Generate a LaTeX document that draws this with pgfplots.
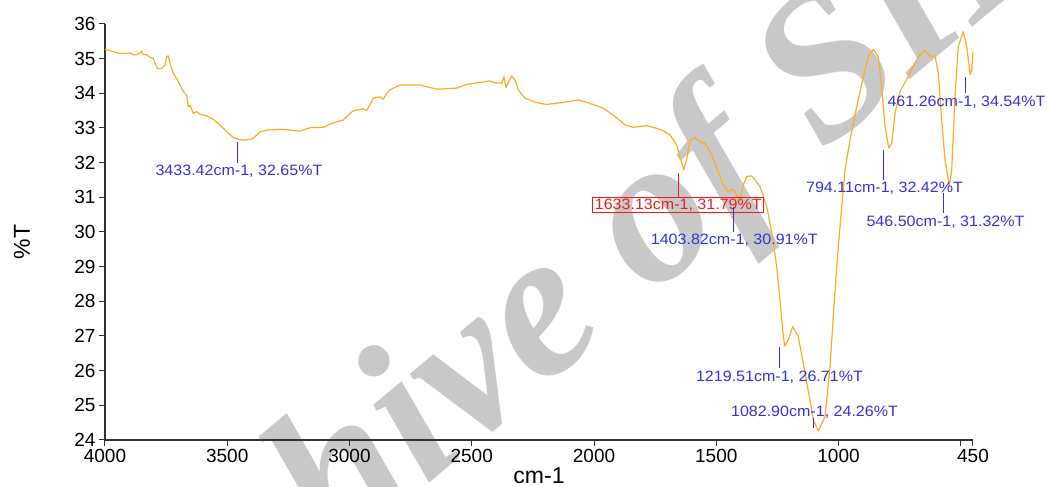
\documentclass[border=0pt]{standalone}
\usepackage{fontspec}
\setmainfont{Liberation Sans}
\newfontfamily\wmfont{Liberation Serif}
\usepackage{pgfplots}
\pgfplotsset{compat=1.18}
\definecolor{curve}{RGB}{255,170,35}
\definecolor{annblue}{RGB}{50,50,215}
\definecolor{annred}{RGB}{235,30,30}
\definecolor{wm}{RGB}{200,200,200}
\definecolor{axisgray}{RGB}{50,50,50}
\newcommand\ann{\fontsize{15}{15}\selectfont}
\begin{document}
\begin{tikzpicture}
\path[use as bounding box] (-105pt,-47pt) rectangle (942pt,440pt);
\node[rotate=40, text=wm, font=\wmfont\bfseries\itshape\fontsize{208}{208}\selectfont] at (455.3pt,133.6pt) {Archive of SID};
\begin{axis}[
  at={(0,0)}, anchor=south west,
  scale only axis, width=868pt, height=416pt,
  x dir=reverse, xmin=450, xmax=4000, ymin=24, ymax=36,
  axis x line*=bottom, axis y line*=left,
  xtick={450,500,1000,1500,2000,2500,3000,3500,4000},
  xticklabels={450,,1000,1500,2000,2500,3000,3500,4000},
  ytick={24,25,...,36},
  tick align=outside, major tick length=6pt,
  tick style={axisgray, line width=1pt},
  axis line style={axisgray, line width=1.2pt},
  ticklabel style={font=\fontsize{19}{19}\selectfont, text=black},
  /pgf/number format/assume math mode=true,
  clip=false,
]
\addplot[curve, line width=1.2pt, line join=round] table {
4000 35.27
3938.7 35.15
3904.7 35.15
3897.8 35.17
3884.3 35.11
3870.4 35.11
3856.9 35.17
3849.9 35.22
3843.4 35.11
3829.5 35.11
3815.9 35.04
3802.5 35.01
3795.5 34.87
3786.1 34.72
3768.1 34.72
3754.6 34.82
3747.7 35.06
3741.1 35.08
3734.2 34.87
3720.7 34.58
3706.8 34.43
3693.3 34.24
3679.8 34.05
3665.9 33.95
3659.3 33.61
3652.4 33.66
3638.9 33.42
3625.0 33.47
3611.5 33.40
3584.1 33.35
3557.1 33.25
3529.7 33.09
3502.3 32.89
3475.3 32.73
3447.9 32.66
3433.4 32.65
3413.9 32.66
3393.5 32.70
3366.1 32.89
3338.7 32.94
3270.8 32.96
3202.5 32.91
3161.6 33.01
3107.2 33.02
3066.3 33.15
3025.4 33.23
2984.5 33.50
2943.6 33.55
2929.7 33.50
2902.7 33.86
2875.3 33.90
2861.8 33.83
2847.9 34.00
2834.4 34.10
2793.5 34.24
2711.7 34.24
2643.4 34.12
2561.6 34.15
2520.7 34.26
2466.3 34.31
2425.4 34.36
2411.9 34.31
2377.6 34.29
2368.1 34.48
2360.0 34.17
2350.6 34.31
2336.6 34.50
2323.1 34.38
2309.6 34.10
2282.2 33.86
2234.4 33.73
2193.5 33.68
2125.6 33.74
2064.2 33.81
2016.4 33.71
1962.0 33.57
1921.1 33.37
1873.3 33.09
1839.3 33.02
1784.5 33.07
1743.6 32.99
1716.6 32.92
1689.2 32.80
1661.8 32.51
1648.3 32.17
1633.1 31.79
1619.7 32.13
1608.0 32.65
1587.5 32.73
1566.5 32.60
1546.1 32.56
1518.7 32.22
1491.7 31.74
1471.2 31.36
1450.8 31.16
1430.3 31.23
1403.8 30.91
1389.5 31.36
1375.5 31.60
1355.0 31.62
1321.1 31.31
1293.7 30.73
1272.4 29.96
1252.8 29.00
1239.3 28.04
1225.8 26.98
1219.5 26.71
1204.5 26.91
1187.4 27.27
1164.5 26.98
1144.1 26.21
1116.7 25.15
1103.2 24.58
1082.9 24.26
1055.3 24.67
1034.8 26.11
1021.3 27.56
1007.4 29.00
993.9 30.15
973.5 31.79
953.0 32.65
925.7 33.61
898.6 34.48
878.2 35.06
857.8 35.27
837.3 35.06
823.4 34.19
809.9 33.04
794.1 32.42
782.5 32.56
769.0 33.42
748.5 34.05
707.6 34.58
673.7 35.06
646.3 35.25
625.8 35.06
605.4 35.08
591.9 34.58
578.0 33.23
564.5 32.08
546.5 31.32
537.1 31.79
523.6 33.90
510.1 35.35
489.6 35.78
475.7 35.35
461.3 34.54
455.3 34.67
450 35.20
};
% annotations
\draw[annblue, line width=1pt] (axis cs:3457,32.60) -- (axis cs:3457,31.98);
\node[annblue, anchor=base, font=\ann, xscale=1.07, inner sep=0pt] at (axis cs:3452,31.62) {3433.42cm-1, 32.65\%T};
\draw[annred, line width=1pt] (axis cs:1652.4,31.71) -- (axis cs:1652.4,31.02);
\node[draw=annred, text=annred, line width=0.9pt, font=\ann, xscale=1.07, inner xsep=2pt, inner ysep=1.5pt, anchor=center] at (axis cs:1655.2,30.78) {1633.13cm-1, 31.79\%T};
\draw[annblue, line width=1pt] (axis cs:1430.3,30.73) -- (axis cs:1430.3,30.01);
\node[annblue, anchor=base, font=\ann, xscale=1.07, inner sep=0pt] at (axis cs:1426.2,29.64) {1403.82cm-1, 30.91\%T};
\draw[annblue, line width=1pt] (axis cs:1242.2,26.69) -- (axis cs:1242.2,26.07);
\node[annblue, anchor=base, font=\ann, xscale=1.07, inner sep=0pt] at (axis cs:1241.4,25.68) {1219.51cm-1, 26.71\%T};
\draw[annblue, line width=1pt] (axis cs:1103.1,24.63) -- (axis cs:1103.1,24.35);
\node[annblue, anchor=base, font=\ann, xscale=1.07, inner sep=0pt] at (axis cs:1098.2,24.67) {1082.90cm-1, 24.26\%T};
\draw[annblue, line width=1pt] (axis cs:816.8,32.37) -- (axis cs:816.8,31.50);
\node[annblue, anchor=base, font=\ann, xscale=1.07, inner sep=0pt] at (axis cs:811.9,31.13) {794.11cm-1, 32.42\%T};
\draw[annblue, line width=1pt] (axis cs:568.6,31.12) -- (axis cs:568.6,30.54);
\node[annblue, anchor=base, font=\ann, xscale=1.07, inner sep=0pt] at (axis cs:562.4,30.15) {546.50cm-1, 31.32\%T};
\draw[annblue, line width=1pt] (axis cs:482.7,34.48) -- (axis cs:482.7,34.00);
\node[annblue, anchor=base, font=\ann, xscale=1.07, inner sep=0pt] at (axis cs:476.6,33.61) {461.26cm-1, 34.54\%T};
% axis labels
\node[anchor=base, font=\fontsize{23}{23}\selectfont] at ([yshift=-44pt]rel axis cs:0.5,0) {cm-1};
\node[rotate=90, anchor=center, font=\fontsize{23}{23}\selectfont] at ([xshift=-83pt]rel axis cs:0,0.476) {\%T};
\end{axis}
\end{tikzpicture}
\end{document}
